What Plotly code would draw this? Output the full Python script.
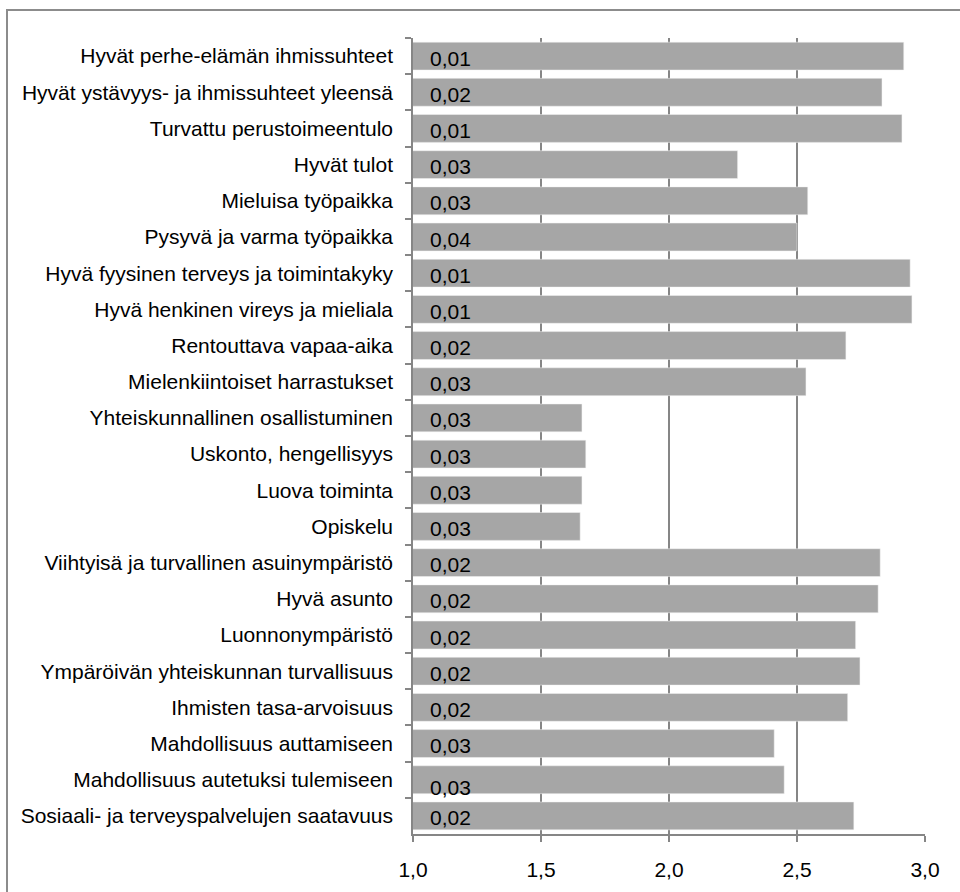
import plotly.graph_objects as go

categories = [
    "Hyvät perhe-elämän ihmissuhteet",
    "Hyvät ystävyys- ja ihmissuhteet yleensä",
    "Turvattu perustoimeentulo",
    "Hyvät tulot",
    "Mieluisa työpaikka",
    "Pysyvä ja varma työpaikka",
    "Hyvä fyysinen terveys ja toimintakyky",
    "Hyvä henkinen vireys ja mieliala",
    "Rentouttava vapaa-aika",
    "Mielenkiintoiset harrastukset",
    "Yhteiskunnallinen osallistuminen",
    "Uskonto, hengellisyys",
    "Luova toiminta",
    "Opiskelu",
    "Viihtyisä ja turvallinen asuinympäristö",
    "Hyvä asunto",
    "Luonnonympäristö",
    "Ympäröivän yhteiskunnan turvallisuus",
    "Ihmisten tasa-arvoisuus",
    "Mahdollisuus auttamiseen",
    "Mahdollisuus autetuksi tulemiseen",
    "Sosiaali- ja terveyspalvelujen saatavuus",
]

means = [2.917, 2.832, 2.910, 2.268, 2.542, 2.500, 2.942, 2.949, 2.691, 2.535,
         1.660, 1.675, 1.660, 1.653, 2.825, 2.817, 2.729, 2.746, 2.698, 2.411,
         2.450, 2.722]

std_errors = [0.01, 0.02, 0.01, 0.03, 0.03, 0.04, 0.01, 0.01, 0.02, 0.03,
              0.03, 0.03, 0.03, 0.03, 0.02, 0.02, 0.02, 0.02, 0.02, 0.03,
              0.03, 0.02]

x_ticks = [1.0, 1.5, 2.0, 2.5, 3.0]
x_tick_labels = ["1,0", "1,5", "2,0", "2,5", "3,0"]

FONT = "Liberation Sans, Arial, sans-serif"
FS = 21
GRID = "#868686"

fig = go.Figure()
fig.add_trace(go.Bar(
    y=categories,
    x=means,
    orientation="h",
    marker=dict(color="#a6a6a6", line=dict(color="#f2f2f2", width=0.5)),
    hoverinfo="skip",
))

label_extra_shift = {"Mahdollisuus autetuksi tulemiseen": -6}
for cat, se in zip(categories, std_errors):
    fig.add_annotation(
        x=x_ticks[0], y=cat, xref="x", yref="y",
        text=f"{se:.2f}".replace(".", ","),
        showarrow=False, xanchor="left", yanchor="middle",
        xshift=15, yshift=-2 + label_extra_shift.get(cat, 0),
        font=dict(family=FONT, size=FS, color="#000000"),
    )

# outer chart border (cropped on right and bottom)
L, R, T, B = 413, 35, 38, 58
W, H = 960, 892
pw, ph = W - L - R, H - T - B
fig.add_shape(
    type="rect", xref="paper", yref="paper",
    x0=(7 - L) / pw, x1=(975 - L) / pw,
    y0=(H - B - 905) / ph, y1=(H - B - 10) / ph,
    line=dict(color="#8c8c8c", width=2), fillcolor="rgba(0,0,0,0)",
    layer="below",
)

fig.update_layout(
    width=W, height=H,
    margin=dict(l=L, r=R, t=T, b=B, autoexpand=False),
    paper_bgcolor="white", plot_bgcolor="white",
    bargap=0.23,
    showlegend=False,
    font=dict(family=FONT, size=FS, color="#000000"),
    xaxis=dict(
        range=[1.0, 3.0],
        tickvals=x_ticks, ticktext=x_tick_labels,
        showgrid=True, gridcolor=GRID, gridwidth=1.5,
        showline=True, linecolor=GRID, linewidth=1.5,
        ticks="outside", ticklen=6, tickcolor=GRID, tickwidth=1.5,
        ticklabelstandoff=10,
        zeroline=False,
        tickfont=dict(family=FONT, size=FS, color="#000000"),
        layer="below traces",
    ),
    yaxis=dict(
        autorange="reversed",
        showgrid=False,
        showline=True, linecolor=GRID, linewidth=1.5,
        ticks="outside", ticklen=6, tickcolor=GRID, tickwidth=1.5,
        tickson="boundaries",
        ticklabelstandoff=14,
        tickfont=dict(family=FONT, size=FS, color="#000000"),
    ),
)

fig.write_html(
    "out.html",
    config={"displayModeBar": False},
    post_script="document.body.style.margin='0px';",
)
